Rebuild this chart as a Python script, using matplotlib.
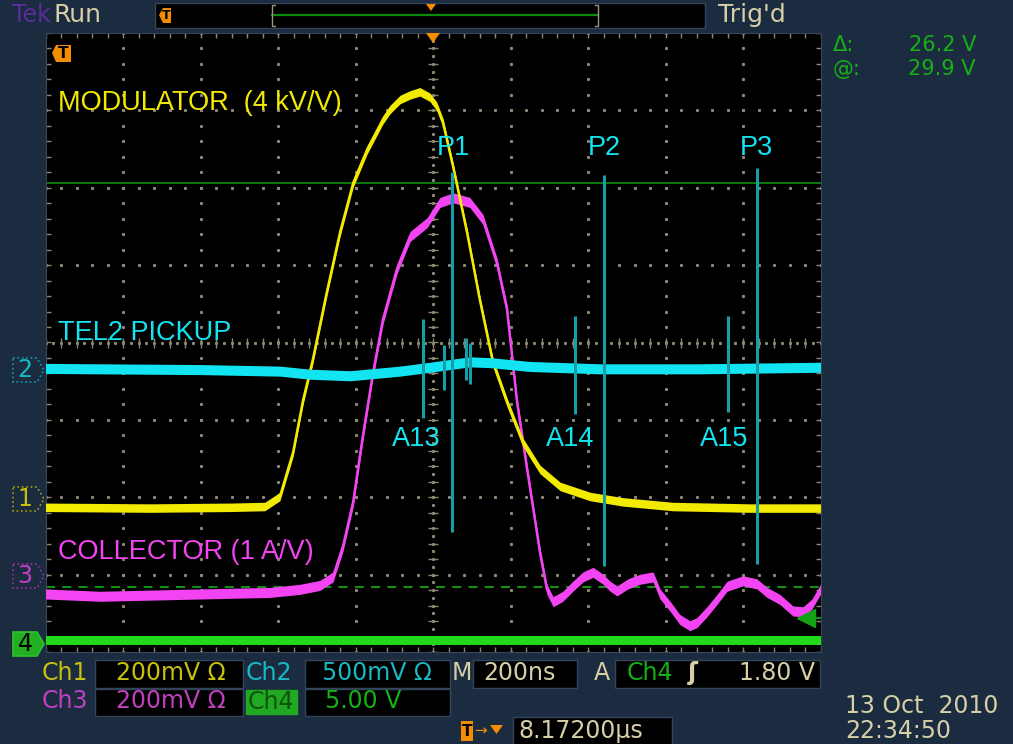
import numpy as np
import matplotlib.pyplot as plt
from matplotlib.patches import Polygon, Rectangle

# Screen data (time in ns, level in screen divisions)
ch1_t = [-1000, -730, -524, -434, -395, -361, -335, -310, -274, -240, -206, -170, -129, -111, -85, -59,
         -34, -8, 10, 26, 52, 88, 121, 155, 191, 232, 276, 328, 405, 490, 619, 818, 1000]
ch1_y = [-2.13, -2.14, -2.13, -2.12, -1.99, -1.42, -0.74, -0.22, 0.65, 1.42, 2.06, 2.49, 2.88, 3.01, 3.14, 3.20,
         3.24, 3.17, 3.05, 2.84, 2.27, 1.42, 0.55, -0.26, -0.77, -1.29, -1.64, -1.86, -1.99, -2.06, -2.12, -2.14, -2.14]

ch2_t = [-1000, -601, -395, -317, -214, -85, -8, 95, 147, 250, 431, 689, 1000]
ch2_y = [-0.335, -0.35, -0.37, -0.41, -0.43, -0.37, -0.32, -0.25, -0.26, -0.31, -0.34, -0.34, -0.32]

# pickup spikes: position, top, bottom
spike_t = [-26, 28, 49, 85, 95, 366, 441, 761, 836]
spike_top = [0.30, -0.03, 2.21, 0.06, 0.00, 0.34, 2.17, 0.34, 2.26]
spike_bot = [-0.97, -0.61, -2.45, -0.48, -0.54, -0.93, -2.89, -0.90, -2.86]

ch3_t = [-1000, -859, -601, -421, -343, -292, -258, -232, -206, -181, -155, -129, -93, -59, -15,
         18, 52, 95, 129, 165, 191, 217, 243, 276, 294, 310, 335, 361, 387, 413, 439, 457, 475, 503, 534, 568,
         586, 612, 637, 663, 681, 707, 733, 759, 800, 836, 862, 895, 929, 955, 978, 1000]
ch3_y = [-3.25, -3.28, -3.25, -3.23, -3.19, -3.14, -3.03, -2.63, -2.06, -1.21, -0.40, 0.30, 0.95, 1.37, 1.55,
         1.81, 1.87, 1.81, 1.59, 1.03, 0.43, -0.77, -1.64, -2.71, -3.19, -3.35, -3.28, -3.15, -3.03, -2.97, -3.06,
         -3.15, -3.21, -3.12, -3.06, -3.03,
         -3.25, -3.41, -3.58, -3.66, -3.62, -3.48, -3.32, -3.15, -3.08, -3.12, -3.23, -3.32, -3.47, -3.48, -3.38, -3.19]

ch4_t = [-1000, 1000]
ch4_y = [-3.85, -3.85]

cursor_a = 2.06
cursor_b = -3.16

labels = ['MODULATOR  (4 kV/V)', 'TEL2 PICKUP', 'COLLECTOR (1 A/V)']
label_y = [3.10, 0.12, -2.71]
peak_names = ['P1', 'P2', 'P3']
peak_t = [52, 441, 834]
arc_names = ['A13', 'A14', 'A15']
arc_t = [-44, 354, 751]

YEL = '#f2ea00'
CYN = '#12e4f2'
TEAL = '#169ea6'
MAG = '#f244f2'
GRN = '#22d81a'
BEIGE = '#d6cfa8'
ORANGE = '#f28c00'
GRID = '#8c8770'
UI_FONT = ['DejaVu Sans']
LBL_FONT = ['Liberation Sans', 'DejaVu Sans']

fig = plt.figure(figsize=(10.13, 7.44), dpi=100)
fig.patch.set_facecolor('#1b2b40')

# graticule area (10 x 8 divisions)
ax = fig.add_axes([45.5 / 1013, (744 - 652) / 744, 775 / 1013, 619 / 744])
ax.set_facecolor('black')
ax.set_xlim(-1000, 1000)
ax.set_ylim(-4, 4)
ax.set_xticks([])
ax.set_yticks([])
for s in ax.spines.values():
    s.set_color('#3a4658')

# dotted grid
major_t = [t for t in range(-800, 801, 200) if t != 0]
major_y = [y for y in range(-3, 4) if y != 0]
fine_y = np.arange(-4, 4.001, 0.2)
fine_t = np.arange(-1000, 1000.1, 40)
for t in major_t:
    ax.plot([t] * len(fine_y), fine_y, ls='none', marker='s', ms=1.2, color=GRID, zorder=1)
for y in major_y:
    ax.plot(fine_t, [y] * len(fine_t), ls='none', marker='s', ms=1.2, color=GRID, zorder=1)
# centre axes with ticks
ax.plot([0] * len(fine_y), fine_y, ls='none', marker='_', ms=7, mew=1, color=GRID, zorder=1)
ax.plot(np.zeros(81), np.linspace(-4, 4, 81), ls='none', marker='s', ms=1.2, color=GRID, zorder=1)
ax.plot(fine_t, np.zeros(len(fine_t)), ls='none', marker='|', ms=7, mew=1, color=GRID, zorder=1)
ax.plot(np.linspace(-1000, 1000, 101), np.zeros(101), ls='none', marker='s', ms=1.2, color=GRID, zorder=1)
# edge rulers
for y in (-4, 4):
    ax.plot(fine_t, [y] * len(fine_t), ls='none', marker='|', ms=7, mew=1, color=GRID, zorder=1)
for t in (-1000, 1000):
    ax.plot([t] * len(fine_y), fine_y, ls='none', marker='_', ms=7, mew=1, color=GRID, zorder=1)

# cursors
ax.axhline(cursor_a, color='#0c820c', lw=1.3, zorder=2)
ax.axhline(cursor_b, color='#14a014', lw=1.3, ls=(0, (5, 4)), zorder=2)
ax.plot([963], [-3.56], marker='<', ms=13, color='#14a014', zorder=6, clip_on=False)
ax.plot([975, 1000], [-3.56, -3.56], color='#14a014', lw=1.3, zorder=6)


def trace(t, y, color, band, lw):
    t = np.asarray(t, float)
    y = np.asarray(y, float)
    ax.fill_between(t, y - band, y + band, color=color, lw=0, zorder=4)
    ax.plot(t, y, color=color, lw=lw, zorder=4, solid_joinstyle='round')


trace(ch4_t, ch4_y, GRN, 0.055, 1.5)
trace(ch3_t, ch3_y, MAG, 0.065, 1.8)
trace(ch1_t, ch1_y, YEL, 0.055, 1.8)
trace(ch2_t, ch2_y, CYN, 0.065, 1.5)
ax.vlines(spike_t, spike_bot, spike_top, color=TEAL, lw=2.2, zorder=5)

# on-screen annotations
for txt, y, c in zip(labels, label_y, [YEL, CYN, MAG]):
    ax.text(-968, y, txt, color=c, fontsize=19.5, va='center', ha='left', family=LBL_FONT, zorder=7)
for name, t in zip(peak_names, peak_t):
    ax.text(t, 2.52, name, color=CYN, fontsize=19.5, va='center', ha='center', family=LBL_FONT, zorder=7)
for name, t in zip(arc_names, arc_t):
    ax.text(t, -1.25, name, color=CYN, fontsize=19.5, va='center', ha='center', family=LBL_FONT, zorder=7)

# scope frame / UI in pixel coordinates
ui = fig.add_axes([0, 0, 1, 1])
ui.set_xlim(0, 1013)
ui.set_ylim(744, 0)
ui.axis('off')
ui.patch.set_alpha(0)


def box(x0, x1, y0, y1, fc='black', ec='#34445a'):
    ui.add_patch(Rectangle((x0, y0), x1 - x0, y1 - y0, fc=fc, ec=ec, lw=1))


def label(x, y, s, c=BEIGE, ha='left', size=17, **kw):
    ui.text(x, y, s, color=c, ha=ha, va='center', fontsize=size, family=UI_FONT, **kw)


# top bar
label(12, 15, 'Tek', c='#5a2c9c', size=17)
label(53, 15, 'Run', size=18)
box(155, 705, 3, 28)
ui.add_patch(Polygon([(159, 15), (163, 8), (171, 8), (171, 23), (163, 23)], fc=ORANGE, ec='none'))
label(166, 15.5, 'T', c='black', ha='center', size=9, weight='bold')
ui.plot([272, 598], [15, 15], color='#0c8a0c', lw=1.6)
for x, d in ((272, 3), (598, -3)):
    ui.plot([x + d, x, x, x + d], [5, 5, 26, 26], color='#9a947a', lw=1)
ui.add_patch(Polygon([(426, 4), (436, 4), (431, 11)], fc=ORANGE, ec='none'))
label(718, 15, "Trig'd", size=18)

# trigger position markers on the graticule
ui.add_patch(Polygon([(426, 33), (440, 33), (433, 43)], fc=ORANGE, ec='none'))
ui.add_patch(Polygon([(52, 53), (56, 45), (71, 45), (71, 62), (56, 62)], fc=ORANGE, ec='none'))
label(63, 54, 'T', c='black', ha='center', size=11, weight='bold')

# channel ground markers
markers = [('2', 370, '#169ea6', '#1b2b40', '#18b8c4'),
           ('1', 499, '#a8a000', '#1b2b40', '#c8c010'),
           ('3', 576, '#a030a0', '#1b2b40', '#c040c0'),
           ('4', 644, '#30c030', '#22b022', 'black')]
for num, y, ec, fc, tc in markers:
    ui.add_patch(Polygon([(13, y - 12), (37, y - 12), (44, y), (37, y + 12), (13, y + 12)],
                         fc=fc, ec=ec, lw=1.2, ls=':' if num != '4' else '-'))
    label(25, y, num, c=tc, ha='center', size=17)

# cursor readout
label(833, 45, 'Δ:', c='#16b016', size=15)
label(976, 45, '26.2 V', c='#16b016', ha='right', size=15)
label(833, 69, '@:', c='#16b016', size=15)
label(976, 69, '29.9 V', c='#16b016', ha='right', size=15)

# bottom status rows
label(42, 673, 'Ch1', c='#c8c010')
box(95, 243, 660, 688)
label(116, 673, '200mV Ω', c='#c8c010')
label(246, 673, 'Ch2', c='#18b8c4')
box(305, 450, 660, 688)
label(322, 673, '500mV Ω', c='#18b8c4')
label(452, 673, 'M')
box(473, 577, 660, 688)
label(483, 673, '200ns')
label(594, 673, 'A')
box(615, 820, 660, 688)
label(627, 673, 'Ch4', c='#16b016')
label(688, 673, 'ʃ', weight='bold')
label(815, 673, '1.80 V', ha='right')

label(42, 701, 'Ch3', c='#c040c0')
box(95, 243, 689, 716)
label(116, 701, '200mV Ω', c='#c040c0')
box(246, 297, 690, 714, fc='#22a822', ec='#22a822')
label(248, 702, 'Ch4', c='#0c560c')
box(305, 450, 689, 716)
label(325, 701, '5.00 V', c='#16b016')

ui.add_patch(Polygon([(461, 721), (473, 721), (473, 741), (461, 741)], fc=ORANGE, ec='none'))
label(467, 731, 'T', c='black', ha='center', size=11, weight='bold')
label(474, 731, '→', c=ORANGE, size=11)
ui.add_patch(Polygon([(490, 725), (503, 725), (496.5, 734)], fc=ORANGE, ec='none'))
box(513, 672, 717, 745)
label(518, 731, '8.17200µs')

label(845, 706, '13 Oct  2010')
label(845, 731, '22:34:50')

plt.savefig('out.png', dpi=100, facecolor=fig.get_facecolor())
